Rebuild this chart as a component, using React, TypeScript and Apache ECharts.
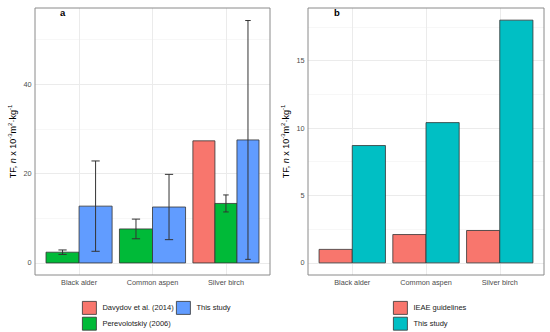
import React, { useEffect, useRef } from "react";
import * as echarts from "echarts";

// ---- data ----
const categories = ["Black alder", "Common aspen", "Silver birch"];
const categoryIndex = [0, 1, 2];

// panel a
const davydovA: (number | null)[] = [null, null, 27.3];
const perevolotskiyA: (number | null)[] = [2.4, 7.6, 13.3];
const perevolotskiyErrA: number[] = [0.5, 2.2, 1.9];
const thisStudyA: (number | null)[] = [12.7, 12.5, 27.5];
const thisStudyErrA: number[] = [10.1, 7.3, 26.7];

// panel b
const ieaeB: (number | null)[] = [1.0, 2.1, 2.4];
const thisStudyB: (number | null)[] = [8.7, 10.4, 18.0];

// ticks
const yTicksA = [0, 20, 40];
const yMinorA = [10, 30, 50];
const yTicksB = [0, 5, 10, 15];
const yMinorB = [2.5, 7.5, 12.5, 17.5];

const COLORS = { red: "#F8766D", green: "#00BA38", blue: "#619CFF", teal: "#00BFC4" };
const DODGE = 0.9;
const FONT = "'Liberation Sans', Arial, Helvetica, sans-serif";

type Group = { name: string; color: string; values: (number | null)[]; errors?: number[] };

const groupsA: Group[] = [
  { name: "Davydov et al. (2014)", color: COLORS.red, values: davydovA },
  { name: "Perevolotskiy (2006)", color: COLORS.green, values: perevolotskiyA, errors: perevolotskiyErrA },
  { name: "This study", color: COLORS.blue, values: thisStudyA, errors: thisStudyErrA },
];
const groupsB: Group[] = [
  { name: "b:IEAE guidelines", color: COLORS.red, values: ieaeB },
  { name: "b:This study", color: COLORS.teal, values: thisStudyB },
];

function buildSeries(groups: Group[], axisIndex: number) {
  // dodge slots per category, like ggplot position_dodge
  const present = categories.map((_, ci) =>
    groups.map((g, gi) => (g.values[ci] != null ? gi : -1)).filter((gi) => gi >= 0)
  );
  return groups.map((g, gi) => ({
    type: "custom",
    name: g.name,
    xAxisIndex: axisIndex,
    yAxisIndex: axisIndex,
    z: 3,
    clip: false,
    itemStyle: { color: g.color, borderColor: "#333333", borderWidth: 0.8 },
    encode: { x: 0, y: 1 },
    data: categories
      .map((_, ci) => {
        const v = g.values[ci];
        if (v == null) return null;
        const slot = present[ci].indexOf(gi);
        return [ci, v, g.errors ? g.errors[ci] : 0, slot, present[ci].length];
      })
      .filter((d) => d != null),
    renderItem: (params: any, api: any) => {
      const cat = api.value(0);
      const val = api.value(1);
      const err = api.value(2);
      const slot = api.value(3);
      const n = api.value(4);
      const slotW = DODGE / n;
      const x0 = cat - DODGE / 2 + slot * slotW;
      const x1 = x0 + slotW;
      const pTop = api.coord([x0, val]);
      const pBot = api.coord([x1, 0]);
      const children: any[] = [
        {
          type: "rect",
          shape: { x: pTop[0], y: pTop[1], width: pBot[0] - pTop[0], height: pBot[1] - pTop[1] },
          style: { fill: g.color, stroke: "#333333", lineWidth: 0.8 },
        },
      ];
      if (err > 0) {
        const xc = (x0 + x1) / 2;
        const hw = slotW * 0.125;
        const lo = api.coord([xc, val - err]);
        const hi = api.coord([xc, val + err]);
        const capL = api.coord([xc - hw, 0])[0];
        const capR = api.coord([xc + hw, 0])[0];
        const ls = { stroke: "#333333", lineWidth: 1 };
        children.push(
          { type: "line", shape: { x1: lo[0], y1: lo[1], x2: hi[0], y2: hi[1] }, style: ls },
          { type: "line", shape: { x1: capL, y1: lo[1], x2: capR, y2: lo[1] }, style: ls },
          { type: "line", shape: { x1: capL, y1: hi[1], x2: capR, y2: hi[1] }, style: ls }
        );
      }
      return { type: "group", children };
    },
  }));
}

function gridLineSeries(axisIndex: number, major: number[], minor: number[]) {
  return {
    type: "line",
    name: "__grid" + axisIndex,
    xAxisIndex: axisIndex,
    yAxisIndex: axisIndex,
    data: [],
    z: 1,
    silent: true,
    markLine: {
      silent: true,
      z: 1,
      symbol: "none",
      label: { show: false },
      emphasis: { disabled: true },
      lineStyle: { color: "#ebebeb", width: 1, type: "solid" },
      data: [
        ...minor.map((v) => ({ yAxis: v, lineStyle: { color: "#f2f2f2", width: 0.6, type: "solid" } })),
        ...major.map((v) => ({ yAxis: v })),
        ...categoryIndex.map((v) => ({ xAxis: v })),
      ],
    },
  };
}

const yName = "{n|TF, }{i|n}{n| x 10}{s|-3}{n|m}{s|2}{n|·kg}{s|-1}";
const yNameStyle = {
  fontFamily: FONT,
  color: "#000",
  rich: {
    n: { fontSize: 9, fontFamily: FONT, color: "#000", lineHeight: 12 },
    i: { fontSize: 9, fontFamily: FONT, color: "#000", fontStyle: "italic", lineHeight: 12 },
    s: { fontSize: 6, fontFamily: FONT, color: "#000", verticalAlign: "top", lineHeight: 7 },
  },
};

function xAxis(gridIndex: number) {
  return {
    type: "value",
    gridIndex,
    min: -0.6,
    max: 2.6,
    axisLine: { show: false },
    axisTick: { show: true, length: 3, lineStyle: { color: "#333333", width: 0.8 }, customValues: categoryIndex },
    axisLabel: {
      customValues: categoryIndex,
      formatter: (v: number) => categories[Math.round(v)] ?? "",
      fontSize: 7.3,
      color: "#4d4d4d",
      fontFamily: FONT,
      margin: 4,
    },
    splitLine: { show: false },
  };
}

function yAxis(gridIndex: number, min: number, max: number, ticks: number[]) {
  return {
    type: "value",
    gridIndex,
    min,
    max,
    name: yName,
    nameLocation: "middle",
    nameRotate: 90,
    nameGap: 16,
    nameTextStyle: yNameStyle,
    axisLine: { show: false },
    axisTick: { show: true, length: 3, lineStyle: { color: "#333333", width: 0.8 }, customValues: ticks },
    axisLabel: { customValues: ticks, fontSize: 7.3, color: "#4d4d4d", fontFamily: FONT, margin: 3.5 },
    splitLine: { show: false },
  };
}

const legendBase = {
  orient: "vertical",
  icon: "rect",
  itemWidth: 14,
  itemHeight: 13,
  itemGap: 2,
  padding: 0,
  selectedMode: false,
  itemStyle: { borderColor: "#333333", borderWidth: 0.8 },
  textStyle: { fontSize: 7.5, color: "#1a1a1a", fontFamily: FONT, padding: [0, 0, 0, 1] },
  formatter: (name: string) => name.replace(/^b:/, ""),
};

export default function App() {
  const ref = useRef<HTMLDivElement>(null);
  useEffect(() => {
    if (!ref.current) return;
    const chart = echarts.init(ref.current, undefined, { renderer: "svg" });
    chart.setOption({
      animation: false,
      backgroundColor: "#ffffff",
      textStyle: { fontFamily: FONT },
      grid: [
        { left: 35, top: 8, width: 235, height: 267, show: true, borderColor: "#8a8a8a", borderWidth: 1, z: 4 },
        { left: 308, top: 8, width: 236, height: 267, show: true, borderColor: "#8a8a8a", borderWidth: 1, z: 4 },
      ],
      xAxis: [xAxis(0), xAxis(1)],
      yAxis: [yAxis(0, -2.7, 57, yTicksA), yAxis(1, -0.9, 18.9, yTicksB)],
      legend: [
        { ...legendBase, left: 82, top: 301, data: ["Davydov et al. (2014)", "Perevolotskiy (2006)"] },
        { ...legendBase, left: 176, top: 301, data: ["This study"] },
        { ...legendBase, left: 393, top: 301, data: ["b:IEAE guidelines", "b:This study"] },
      ],
      graphic: [
        { type: "text", left: 60, top: 7, z: 10, style: { text: "a", fontSize: 9.5, fontWeight: "bold", fill: "#000", fontFamily: FONT } },
        { type: "text", left: 334, top: 7, z: 10, style: { text: "b", fontSize: 9.5, fontWeight: "bold", fill: "#000", fontFamily: FONT } },
      ],
      series: [
        gridLineSeries(0, yTicksA, yMinorA),
        gridLineSeries(1, yTicksB, yMinorB),
        ...buildSeries(groupsA, 0),
        ...buildSeries(groupsB, 1),
      ],
    });
    return () => chart.dispose();
  }, []);
  return <div ref={ref} style={{ position: "fixed", left: 0, top: 0, width: 550, height: 332 }} />;
}
